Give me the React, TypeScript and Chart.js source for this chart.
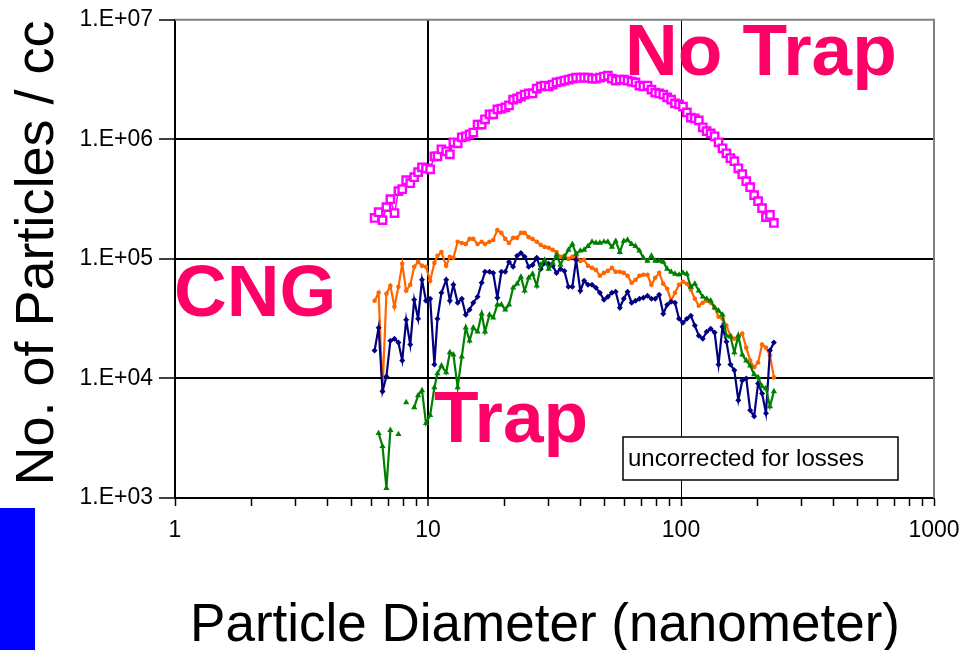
import React, { useEffect, useRef } from "react";
import { Chart, registerables } from "chart.js";

Chart.register(...registerables);

// Particle diameters (nm), SMPS channels
const diameters = [
  6.15, 6.38, 6.61, 6.85, 7.1, 7.37, 7.64, 7.91, 8.2, 8.51,
  8.82, 9.14, 9.47, 9.82, 10.2, 10.6, 10.9, 11.3, 11.8, 12.2,
  12.6, 13.1, 13.6, 14.1, 14.6, 15.1, 15.7, 16.3, 16.8, 17.5,
  18.1, 18.8, 19.5, 20.2, 20.9, 21.7, 22.5, 23.3, 24.1, 25.0,
  25.9, 26.9, 27.9, 28.9, 30.0, 31.1, 32.2, 33.4, 34.6, 35.9,
  37.2, 38.5, 40.0, 41.4, 42.9, 44.5, 46.1, 47.8, 49.6, 51.4,
  53.3, 55.2, 57.3, 59.4, 61.5, 63.8, 66.1, 68.5, 71.0, 73.7,
  76.4, 79.1, 82.0, 85.1, 88.2, 91.4, 94.7, 98.2, 101.8, 105.5,
  109.4, 113.4, 117.6, 121.9, 126.3, 131.0, 135.8, 140.7, 145.9, 151.2,
  156.8, 162.5, 168.5, 174.7, 181.1, 187.7, 194.6, 201.7, 209.1, 216.7,
  224.7, 232.9,
];

// No Trap (magenta)
const noTrap = [
  2.2e5, 2.46e5, 2.11e5, 2.71e5, 3.16e5, 2.42e5, 3.69e5, 3.83e5, 4.55e5, 4.3e5,
  4.82e5, 5.31e5, 5.84e5, 5.73e5, 5.62e5, 7.22e5, 7.22e5, 8.25e5, 7.94e5, 7.5e5,
  9.44e5, 9.26e5, 1.04e6, 1.06e6, 1.1e6, 1.14e6, 1.33e6, 1.33e6, 1.47e6, 1.62e6,
  1.62e6, 1.78e6, 1.81e6, 1.85e6, 1.92e6, 2.15e6, 2.2e6, 2.28e6, 2.37e6, 2.42e6,
  2.42e6, 2.66e6, 2.77e6, 2.82e6, 2.77e6, 2.87e6, 2.99e6, 3.04e6, 3.1e6, 3.16e6,
  3.22e6, 3.28e6, 3.28e6, 3.28e6, 3.28e6, 3.22e6, 3.22e6, 3.28e6, 3.35e6, 3.41e6,
  3.22e6, 3.1e6, 3.16e6, 3.16e6, 3.1e6, 3.04e6, 2.99e6, 2.82e6, 2.77e6, 2.82e6,
  2.61e6, 2.46e6, 2.42e6, 2.37e6, 2.24e6, 2.15e6, 2.0e6, 1.96e6, 1.88e6, 1.68e6,
  1.52e6, 1.5e6, 1.44e6, 1.26e6, 1.17e6, 1.12e6, 1.06e6, 9.44e5, 8.41e5, 7.64e5,
  6.95e5, 6.56e5, 5.73e5, 5.11e5, 4.47e5, 3.98e5, 3.41e5, 3.04e5, 2.66e5, 2.24e5,
  2.33e5, 2.0e5,
];

// Trap run (orange)
const trapOrange = [
  4.47e4, 5.21e4, 7.94e3, 5.11e4, 5.96e4, 3.98e4, 5.84e4, 9.09e4, 5.41e4, 6.07e4,
  8.58e4, 9.44e4, 8.75e4, 8.58e4, 6.56e4, 9.26e4, 1.06e5, 1.14e5, 8.75e4, 1.04e5,
  1.02e5, 1.39e5, 1.36e5, 1.33e5, 1.47e5, 1.47e5, 1.33e5, 1.39e5, 1.33e5, 1.39e5,
  1.44e5, 1.74e5, 1.65e5, 1.47e5, 1.36e5, 1.5e5, 1.5e5, 1.65e5, 1.65e5, 1.52e5,
  1.47e5, 1.39e5, 1.31e5, 1.26e5, 1.24e5, 1.19e5, 1.14e5, 1.04e5, 1.06e5, 1.0e5,
  1.04e5, 1.04e5, 9.62e4, 9.81e4, 8.75e4, 8.41e4, 8.09e4, 7.22e4, 7.64e4, 7.94e4,
  8.41e4, 7.79e4, 7.79e4, 7.64e4, 7.22e4, 6.31e4, 6.68e4, 7.22e4, 7.36e4, 7.36e4,
  6.07e4, 6.95e4, 7.64e4, 6.19e4, 5.62e4, 4.47e4, 5.21e4, 6.07e4, 6.43e4, 6.19e4,
  5.52e4, 4.64e4, 4.06e4, 4.3e4, 4.47e4, 4.3e4, 3.91e4, 3.28e4, 3.16e4, 2.77e4,
  2.28e4, 2.15e4, 2.24e4, 2.37e4, 1.81e4, 1.41e4, 1.24e4, 1.36e4, 1.92e4, 1.81e4,
  1.56e4, 1.02e4,
];

// Trap run (navy)
const trapNavy = [
  1.71e4, 2.66e4, 7.79e3, 1.04e4, 2.07e4, 2.15e4, 2.0e4, 1.41e4, 3.1e4, 1.92e4,
  4.55e4, 3.16e4, 6.68e4, 4.47e4, 4.64e4, 1.31e4, 3.16e4, 5.21e4, 6.68e4, 4.47e4,
  6.07e4, 4.3e4, 4.64e4, 3.41e4, 3.76e4, 4.3e4, 4.82e4, 6.31e4, 7.79e4, 7.79e4,
  7.64e4, 4.73e4, 7.79e4, 7.79e4, 9.44e4, 8.58e4, 1.06e5, 1.12e5, 1.04e5, 8.58e4,
  8.91e4, 1.02e5, 8.25e4, 9.26e4, 9.09e4, 8.75e4, 7.64e4, 8.25e4, 7.94e4, 5.84e4,
  5.84e4, 9.81e4, 5.41e4, 6.56e4, 6.07e4, 6.07e4, 5.73e4, 5.21e4, 4.55e4, 4.82e4,
  5.21e4, 5.31e4, 3.91e4, 4.64e4, 5.31e4, 4.3e4, 4.47e4, 4.64e4, 4.73e4, 4.92e4,
  4.64e4, 4.64e4, 5.01e4, 3.48e4, 4.14e4, 4.38e4, 4.3e4, 3.16e4, 2.93e4, 3.16e4,
  3.35e4, 2.77e4, 2.28e4, 2.15e4, 2.46e4, 2.61e4, 2.42e4, 1.31e4, 2.71e4, 2.03e4,
  1.31e4, 1.17e4, 6.56e3, 9.62e3, 1.0e4, 5.41e3, 4.82e3, 9.09e3, 7.5e3, 5.11e3,
  1.71e4, 2.0e4,
];

// Trap run (green)
const trapGreen = [
  null, 3.48e3, 2.71e3, 1.21e3, 3.69e3, null, 3.41e3, null, 6.31e3, null,
  5.73e3, 7.22e3, 7.94e3, 4.22e3, 4.92e3, 8.41e3, 1.1e4, 1.28e4, 1.12e4, 1.65e4,
  1.58e4, 8.41e3, 1.52e4, 2.66e4, 2.07e4, 2.66e4, 2.46e4, 3.48e4, 2.46e4, 3.41e4,
  3.22e4, 4.14e4, 4.14e4, 3.76e4, 4.14e4, 5.73e4, 6.19e4, 7.08e4, 5.41e4, 6.95e4,
  7.5e4, 5.96e4, 8.91e4, 9.81e4, 8.25e4, 9.26e4, 1.08e5, 8.91e4, 1.04e5, 1.19e5,
  1.33e5, 1.1e5, 1.17e5, 1.19e5, 1.28e5, 1.39e5, 1.36e5, 1.36e5, 1.39e5, 1.39e5,
  1.26e5, 1.41e5, 1.14e5, 1.41e5, 1.44e5, 1.33e5, 1.28e5, 1.17e5, 1.02e5, 9.62e4,
  1.06e5, 9.62e4, 9.62e4, 9.44e4, 8.25e4, 7.79e4, 7.5e4, 7.36e4, 7.64e4, 7.5e4,
  5.84e4, 6.19e4, 5.41e4, 4.82e4, 4.64e4, 4.47e4, 3.91e4, 3.69e4, 3.41e4, 2.28e4,
  2.24e4, 1.65e4, 2.28e4, 1.58e4, 1.41e4, 1.28e4, 1.08e4, 1.02e4, 8.58e3, 8.25e3,
  5.84e3, 7.79e3,
];

const xTickValues = [1, 2, 3, 4, 5, 6, 7, 8, 9, 10, 20, 30, 40, 50, 60, 70, 80, 90, 100, 200, 300, 400, 500, 600, 700, 800, 900, 1000];
const xLabeledValues = [1, 10, 100, 1000];
const xLabels = ["1", "10", "100", "1000"];
const yTickValues = [1e3, 1e4, 1e5, 1e6, 1e7];
const yLabels = ["1.E+03", "1.E+04", "1.E+05", "1.E+06", "1.E+07"];

const FONT = "'Liberation Sans', Arial, Helvetica, sans-serif";

function toPoints(values: (number | null)[]) {
  return diameters.map((d, i) => ({ x: d, y: values[i] }));
}

const decorPlugin = {
  id: "decor",
  beforeDraw(chart: any) {
    const ctx = chart.ctx;
    ctx.save();
    ctx.fillStyle = "#ffffff";
    ctx.fillRect(0, 0, chart.width, chart.height);
    ctx.fillStyle = "#0000ff";
    ctx.fillRect(0, 508, 35, 142);
    ctx.restore();
  },
  afterDraw(chart: any) {
    const ctx = chart.ctx;
    const a = chart.chartArea;
    ctx.save();
    // top & right frame
    ctx.strokeStyle = "#808080";
    ctx.lineWidth = 2;
    ctx.beginPath();
    ctx.moveTo(a.left, a.top);
    ctx.lineTo(a.right, a.top);
    ctx.lineTo(a.right, a.bottom);
    ctx.stroke();

    // annotation box
    ctx.fillStyle = "#ffffff";
    ctx.fillRect(623, 437, 275, 43);
    ctx.strokeStyle = "#000000";
    ctx.lineWidth = 1.5;
    ctx.strokeRect(623, 437, 275, 43);
    ctx.fillStyle = "#000000";
    ctx.font = `24px ${FONT}`;
    ctx.textAlign = "left";
    ctx.textBaseline = "alphabetic";
    ctx.fillText("uncorrected for losses", 628, 466);

    // big labels
    ctx.fillStyle = "#ff0066";
    ctx.font = `bold 73px ${FONT}`;
    ctx.fillText("No Trap", 625, 75);
    ctx.fillText("CNG", 174, 316);
    ctx.fillText("Trap", 434, 442);

    // axis titles
    ctx.fillStyle = "#000000";
    ctx.font = `53px ${FONT}`;
    ctx.textAlign = "center";
    ctx.fillText("Particle Diameter (nanometer)", 545, 641);
    ctx.translate(53, 253);
    ctx.rotate(-Math.PI / 2);
    ctx.font = `54px ${FONT}`;
    ctx.fillText("No. of Particles / cc", 0, 0);
    ctx.restore();
  },
};

export default function App() {
  const ref = useRef<HTMLCanvasElement | null>(null);

  useEffect(() => {
    if (!ref.current) return;
    Chart.defaults.font.family = FONT;
    const chart = new Chart(ref.current, {
      type: "line",
      data: {
        datasets: [
          {
            label: "No Trap",
            data: toPoints(noTrap),
            borderColor: "#ff00ff",
            borderWidth: 1.5,
            pointStyle: "rect",
            pointRadius: 5.2,
            pointBorderWidth: 2.4,
            pointBorderColor: "#ff00ff",
            pointBackgroundColor: "#ffffff",
            order: 4,
          },
          {
            label: "Trap A",
            data: toPoints(trapOrange),
            borderColor: "#ff6600",
            borderWidth: 2.2,
            pointStyle: "circle",
            pointRadius: 2.3,
            pointBorderWidth: 0,
            pointBackgroundColor: "#ff6600",
            order: 3,
          },
          {
            label: "Trap B",
            data: toPoints(trapNavy),
            borderColor: "#000080",
            borderWidth: 2.2,
            pointStyle: "rectRot",
            pointRadius: 3,
            pointBorderWidth: 0,
            pointBackgroundColor: "#000080",
            order: 2,
          },
          {
            label: "Trap C",
            data: toPoints(trapGreen),
            borderColor: "#008000",
            borderWidth: 2.2,
            pointStyle: "triangle",
            pointRadius: 3.6,
            pointBorderWidth: 0,
            pointBackgroundColor: "#008000",
            spanGaps: false,
            order: 1,
          },
        ],
      },
      options: {
        animation: false,
        responsive: false,
        maintainAspectRatio: false,
        layout: { padding: { top: 18, right: 27, left: 0, bottom: 0 } },
        plugins: {
          legend: { display: false },
          tooltip: { enabled: false },
          title: { display: false },
        },
        elements: { line: { tension: 0 } },
        scales: {
          x: {
            type: "logarithmic",
            min: 1,
            max: 1000,
            afterBuildTicks: (scale: any) => {
              scale.ticks = xTickValues.map((v) => ({ value: v }));
            },
            afterFit: (scale: any) => {
              scale.height = 152;
              scale.paddingLeft = 0;
              scale.paddingRight = 0;
            },
            ticks: {
              autoSkip: false,
              maxRotation: 0,
              minRotation: 0,
              padding: 11,
              color: "#000",
              font: { size: 23, family: FONT },
              callback: (v: any) => {
                const i = xLabeledValues.indexOf(Number(v));
                return i >= 0 ? xLabels[i] : "";
              },
            },
            grid: {
              drawOnChartArea: true,
              color: (c: any) =>
                c.tick && (c.tick.value === 10 || c.tick.value === 100) ? "#000" : "rgba(0,0,0,0)",
              lineWidth: (c: any) => (c.tick && c.tick.value === 10 ? 2 : 1),
              tickColor: "#000",
              tickWidth: 1.5,
              tickLength: 8,
            },
            border: { display: true, color: "#000", width: 2 },
          },
          y: {
            type: "logarithmic",
            min: 1e3,
            max: 1e7,
            afterBuildTicks: (scale: any) => {
              scale.ticks = yTickValues.map((v) => ({ value: v }));
            },
            afterFit: (scale: any) => {
              scale.width = 175;
            },
            ticks: {
              padding: 6,
              color: "#000",
              font: { size: 23, family: FONT },
              callback: (v: any) => {
                const i = yTickValues.indexOf(Number(v));
                return i >= 0 ? yLabels[i] : "";
              },
            },
            grid: {
              color: (c: any) =>
                c.tick && c.tick.value > 1e3 && c.tick.value < 1e7 ? "#000" : "rgba(0,0,0,0)",
              lineWidth: 2,
              tickColor: "#000",
              tickWidth: 1.5,
              tickLength: 16,
            },
            border: { display: true, color: "#000", width: 2 },
          },
        },
      },
      plugins: [decorPlugin],
    });
    return () => chart.destroy();
  }, []);

  return (
    <div style={{ position: "fixed", left: 0, top: 0, width: 961, height: 650, background: "#fff" }}>
      <canvas ref={ref} width={961} height={650} style={{ display: "block" }} />
    </div>
  );
}
